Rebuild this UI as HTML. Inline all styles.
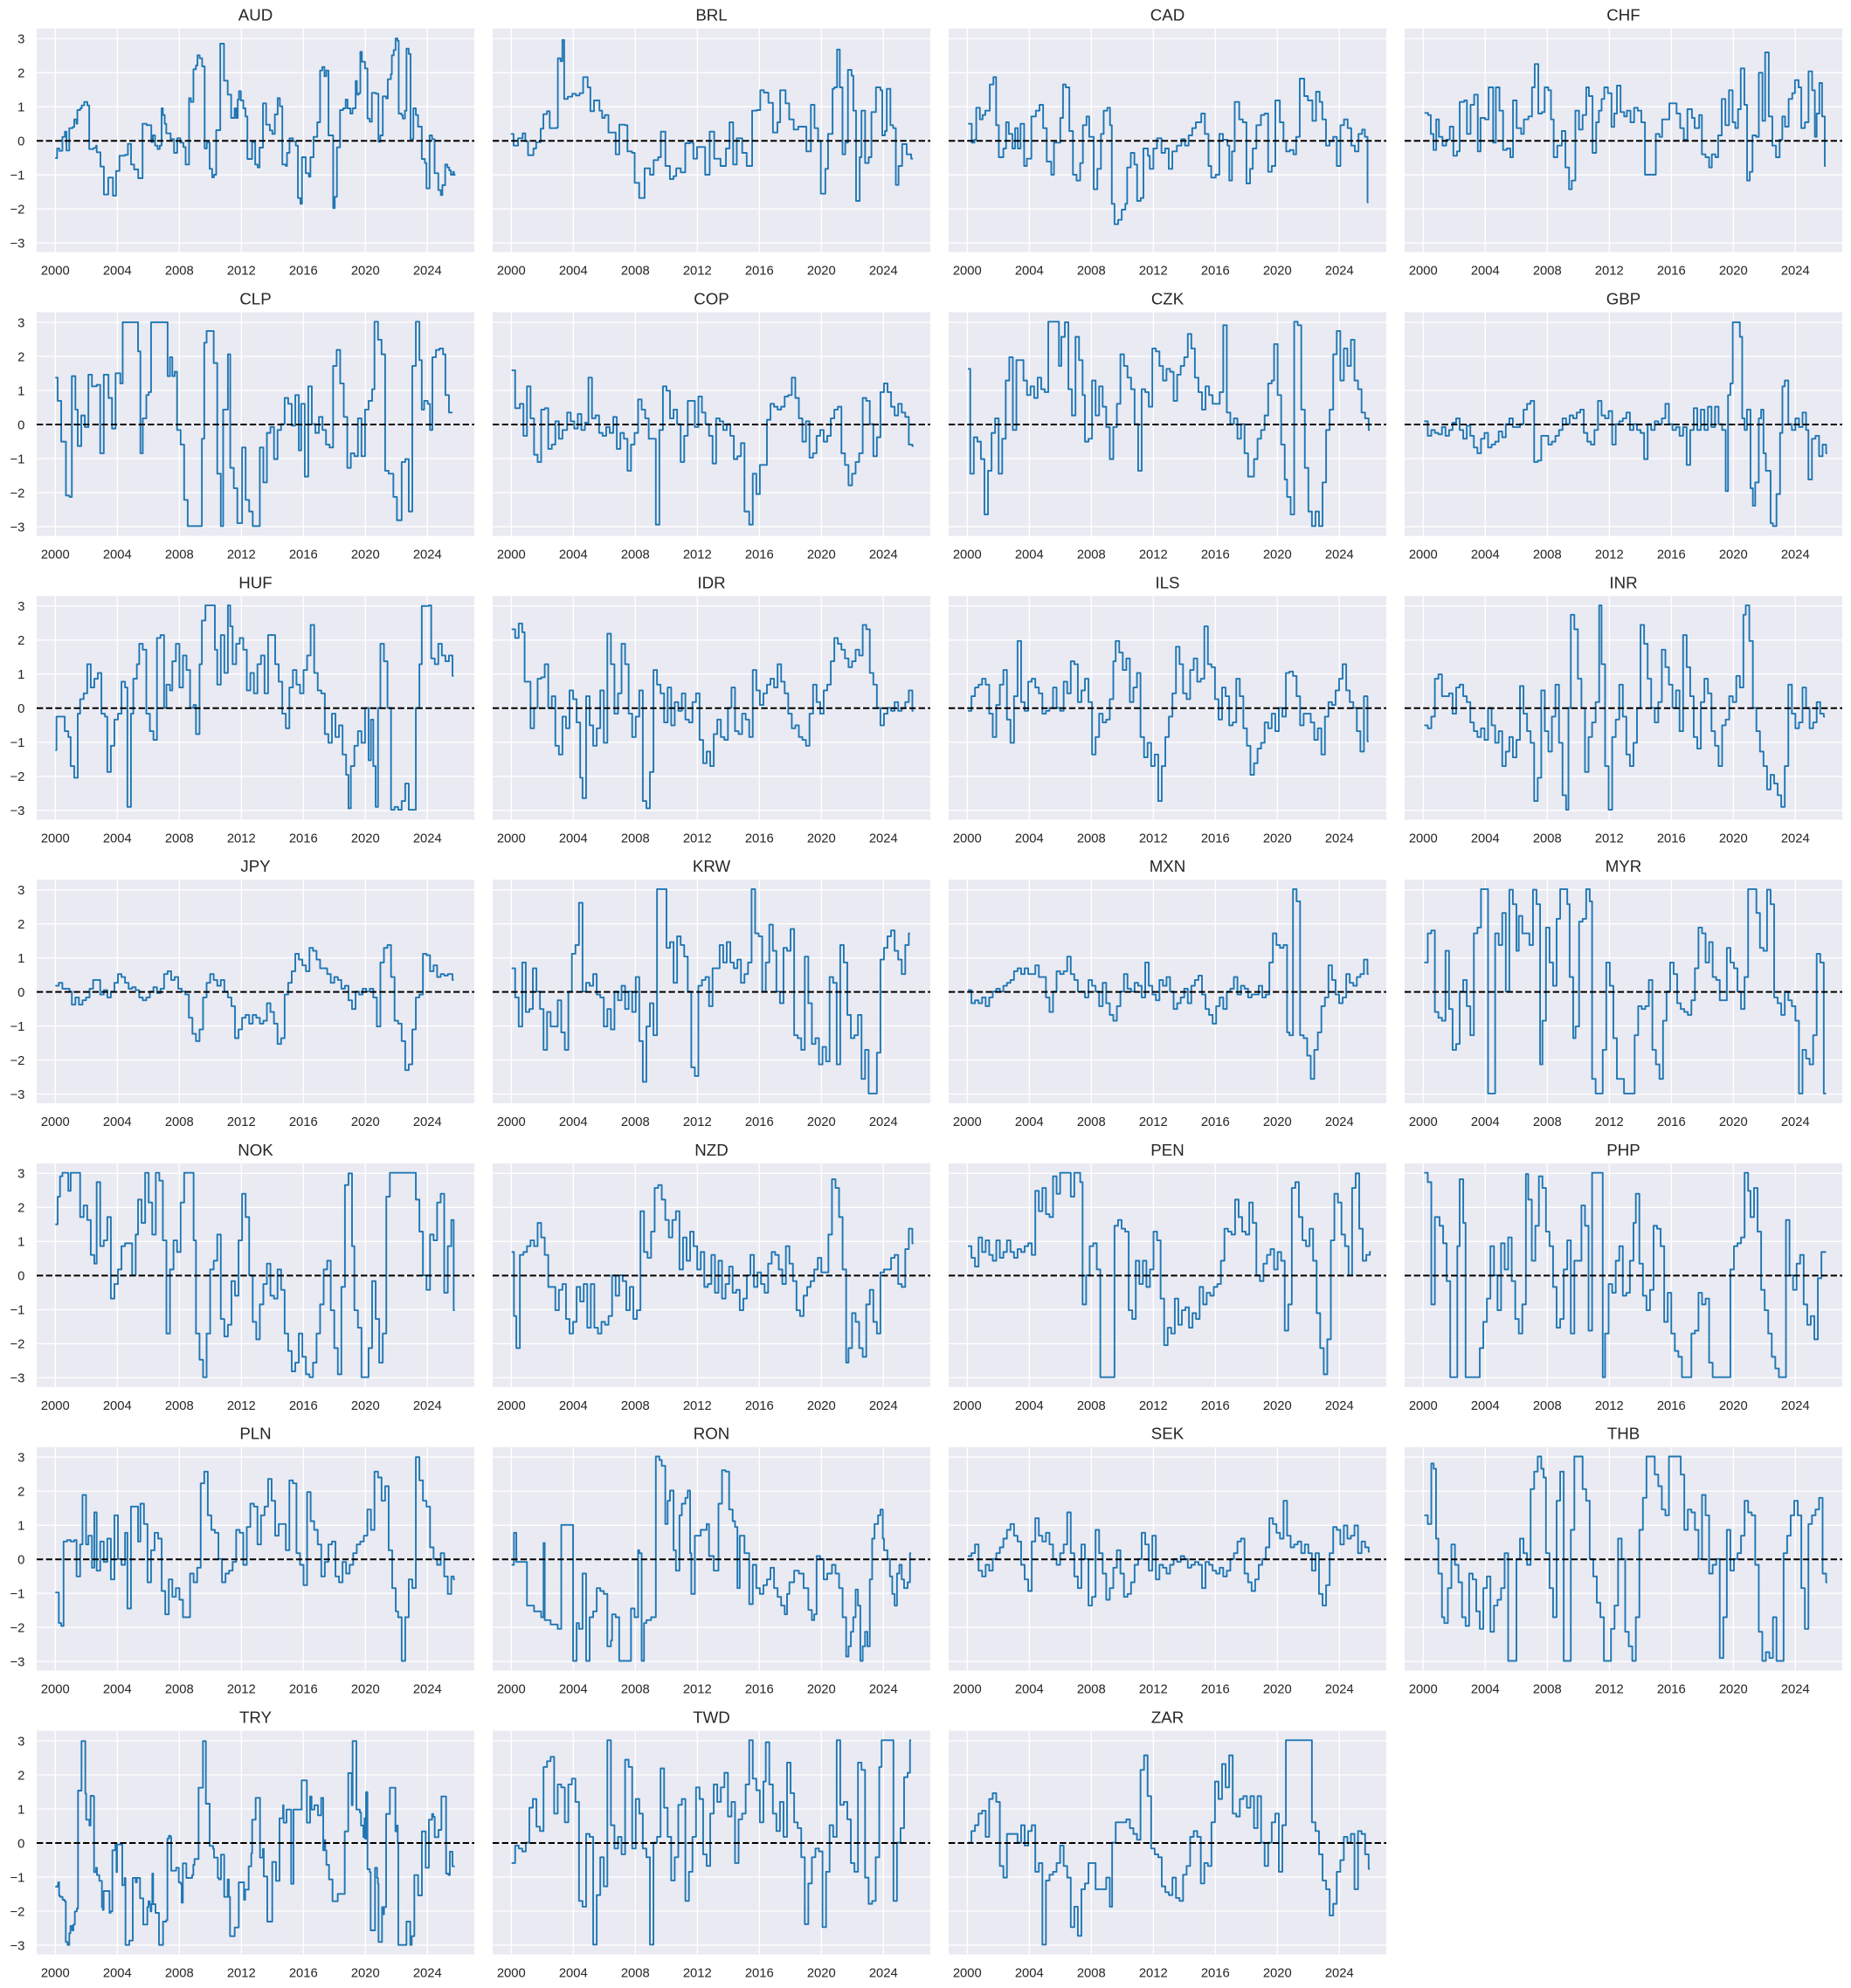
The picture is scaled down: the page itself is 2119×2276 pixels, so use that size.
<!DOCTYPE html>
<html><head><meta charset="utf-8"><style>
html,body{margin:0;padding:0;background:#fff}
svg{display:block}
.bg{fill:#EAEAF2}
.gr{stroke:#fff;stroke-width:1.3;fill:none}
text{font-family:"Liberation Sans",Arial,sans-serif;fill:#262626}
.ti{font-size:18.7px;text-anchor:middle}
.xt{font-size:14.8px;text-anchor:middle}
.yt{font-size:14.8px;text-anchor:end}
.s{fill:none;stroke:#1f77b4;stroke-width:1.9;stroke-linejoin:round;vector-effect:non-scaling-stroke}
.z{fill:none;stroke:#000;stroke-width:2;stroke-dasharray:7.4 3.2}
</style></head><body>
<svg width="2119" height="2276" viewBox="0 0 2119 2276" xmlns="http://www.w3.org/2000/svg">
<defs></defs>
<!-- Panels -->
<g id="panels">
<!-- Row 1 -->
<g transform="translate(42,32.7)"><rect class="bg" width="501" height="256"/><path class="gr" d="M0 11.5H501M0 50.5H501M0 89.5H501M0 128.5H501M0 167.5H501M0 206.5H501M0 245.5H501M21.3 0V256M92.3 0V256M163.3 0V256M234.3 0V256M305.3 0V256M376.3 0V256M447.3 0V256"/><text class="ti" x="250.5" y="-9">AUD</text><text class="xt" x="21.3" y="282">2000</text><text class="xt" x="92.3" y="282">2004</text><text class="xt" x="163.3" y="282">2008</text><text class="xt" x="234.3" y="282">2012</text><text class="xt" x="305.3" y="282">2016</text><text class="xt" x="376.3" y="282">2020</text><text class="xt" x="447.3" y="282">2024</text><text class="yt" x="-13.7" y="16.8">3</text><text class="yt" x="-13.7" y="55.8">2</text><text class="yt" x="-13.7" y="94.8">1</text><text class="yt" x="-13.7" y="133.8">0</text><text class="yt" x="-13.7" y="172.8">−1</text><text class="yt" x="-13.7" y="211.8">−2</text><text class="yt" x="-13.7" y="250.8">−3</text></g>
<g transform="translate(564,32.7)"><rect class="bg" width="501" height="256"/><path class="gr" d="M0 11.5H501M0 50.5H501M0 89.5H501M0 128.5H501M0 167.5H501M0 206.5H501M0 245.5H501M21.3 0V256M92.3 0V256M163.3 0V256M234.3 0V256M305.3 0V256M376.3 0V256M447.3 0V256"/><text class="ti" x="250.5" y="-9">BRL</text><text class="xt" x="21.3" y="282">2000</text><text class="xt" x="92.3" y="282">2004</text><text class="xt" x="163.3" y="282">2008</text><text class="xt" x="234.3" y="282">2012</text><text class="xt" x="305.3" y="282">2016</text><text class="xt" x="376.3" y="282">2020</text><text class="xt" x="447.3" y="282">2024</text></g>
<g transform="translate(1086,32.7)"><rect class="bg" width="501" height="256"/><path class="gr" d="M0 11.5H501M0 50.5H501M0 89.5H501M0 128.5H501M0 167.5H501M0 206.5H501M0 245.5H501M21.3 0V256M92.3 0V256M163.3 0V256M234.3 0V256M305.3 0V256M376.3 0V256M447.3 0V256"/><text class="ti" x="250.5" y="-9">CAD</text><text class="xt" x="21.3" y="282">2000</text><text class="xt" x="92.3" y="282">2004</text><text class="xt" x="163.3" y="282">2008</text><text class="xt" x="234.3" y="282">2012</text><text class="xt" x="305.3" y="282">2016</text><text class="xt" x="376.3" y="282">2020</text><text class="xt" x="447.3" y="282">2024</text></g>
<g transform="translate(1608,32.7)"><rect class="bg" width="501" height="256"/><path class="gr" d="M0 11.5H501M0 50.5H501M0 89.5H501M0 128.5H501M0 167.5H501M0 206.5H501M0 245.5H501M21.3 0V256M92.3 0V256M163.3 0V256M234.3 0V256M305.3 0V256M376.3 0V256M447.3 0V256"/><text class="ti" x="250.5" y="-9">CHF</text><text class="xt" x="21.3" y="282">2000</text><text class="xt" x="92.3" y="282">2004</text><text class="xt" x="163.3" y="282">2008</text><text class="xt" x="234.3" y="282">2012</text><text class="xt" x="305.3" y="282">2016</text><text class="xt" x="376.3" y="282">2020</text><text class="xt" x="447.3" y="282">2024</text></g>
<!-- Row 2 -->
<g transform="translate(42,357.5)"><rect class="bg" width="501" height="256"/><path class="gr" d="M0 11.5H501M0 50.5H501M0 89.5H501M0 128.5H501M0 167.5H501M0 206.5H501M0 245.5H501M21.3 0V256M92.3 0V256M163.3 0V256M234.3 0V256M305.3 0V256M376.3 0V256M447.3 0V256"/><text class="ti" x="250.5" y="-9">CLP</text><text class="xt" x="21.3" y="282">2000</text><text class="xt" x="92.3" y="282">2004</text><text class="xt" x="163.3" y="282">2008</text><text class="xt" x="234.3" y="282">2012</text><text class="xt" x="305.3" y="282">2016</text><text class="xt" x="376.3" y="282">2020</text><text class="xt" x="447.3" y="282">2024</text><text class="yt" x="-13.7" y="16.8">3</text><text class="yt" x="-13.7" y="55.8">2</text><text class="yt" x="-13.7" y="94.8">1</text><text class="yt" x="-13.7" y="133.8">0</text><text class="yt" x="-13.7" y="172.8">−1</text><text class="yt" x="-13.7" y="211.8">−2</text><text class="yt" x="-13.7" y="250.8">−3</text></g>
<g transform="translate(564,357.5)"><rect class="bg" width="501" height="256"/><path class="gr" d="M0 11.5H501M0 50.5H501M0 89.5H501M0 128.5H501M0 167.5H501M0 206.5H501M0 245.5H501M21.3 0V256M92.3 0V256M163.3 0V256M234.3 0V256M305.3 0V256M376.3 0V256M447.3 0V256"/><text class="ti" x="250.5" y="-9">COP</text><text class="xt" x="21.3" y="282">2000</text><text class="xt" x="92.3" y="282">2004</text><text class="xt" x="163.3" y="282">2008</text><text class="xt" x="234.3" y="282">2012</text><text class="xt" x="305.3" y="282">2016</text><text class="xt" x="376.3" y="282">2020</text><text class="xt" x="447.3" y="282">2024</text></g>
<g transform="translate(1086,357.5)"><rect class="bg" width="501" height="256"/><path class="gr" d="M0 11.5H501M0 50.5H501M0 89.5H501M0 128.5H501M0 167.5H501M0 206.5H501M0 245.5H501M21.3 0V256M92.3 0V256M163.3 0V256M234.3 0V256M305.3 0V256M376.3 0V256M447.3 0V256"/><text class="ti" x="250.5" y="-9">CZK</text><text class="xt" x="21.3" y="282">2000</text><text class="xt" x="92.3" y="282">2004</text><text class="xt" x="163.3" y="282">2008</text><text class="xt" x="234.3" y="282">2012</text><text class="xt" x="305.3" y="282">2016</text><text class="xt" x="376.3" y="282">2020</text><text class="xt" x="447.3" y="282">2024</text></g>
<g transform="translate(1608,357.5)"><rect class="bg" width="501" height="256"/><path class="gr" d="M0 11.5H501M0 50.5H501M0 89.5H501M0 128.5H501M0 167.5H501M0 206.5H501M0 245.5H501M21.3 0V256M92.3 0V256M163.3 0V256M234.3 0V256M305.3 0V256M376.3 0V256M447.3 0V256"/><text class="ti" x="250.5" y="-9">GBP</text><text class="xt" x="21.3" y="282">2000</text><text class="xt" x="92.3" y="282">2004</text><text class="xt" x="163.3" y="282">2008</text><text class="xt" x="234.3" y="282">2012</text><text class="xt" x="305.3" y="282">2016</text><text class="xt" x="376.3" y="282">2020</text><text class="xt" x="447.3" y="282">2024</text></g>
<!-- Row 3 -->
<g transform="translate(42,682.3)"><rect class="bg" width="501" height="256"/><path class="gr" d="M0 11.5H501M0 50.5H501M0 89.5H501M0 128.5H501M0 167.5H501M0 206.5H501M0 245.5H501M21.3 0V256M92.3 0V256M163.3 0V256M234.3 0V256M305.3 0V256M376.3 0V256M447.3 0V256"/><text class="ti" x="250.5" y="-9">HUF</text><text class="xt" x="21.3" y="282">2000</text><text class="xt" x="92.3" y="282">2004</text><text class="xt" x="163.3" y="282">2008</text><text class="xt" x="234.3" y="282">2012</text><text class="xt" x="305.3" y="282">2016</text><text class="xt" x="376.3" y="282">2020</text><text class="xt" x="447.3" y="282">2024</text><text class="yt" x="-13.7" y="16.8">3</text><text class="yt" x="-13.7" y="55.8">2</text><text class="yt" x="-13.7" y="94.8">1</text><text class="yt" x="-13.7" y="133.8">0</text><text class="yt" x="-13.7" y="172.8">−1</text><text class="yt" x="-13.7" y="211.8">−2</text><text class="yt" x="-13.7" y="250.8">−3</text></g>
<g transform="translate(564,682.3)"><rect class="bg" width="501" height="256"/><path class="gr" d="M0 11.5H501M0 50.5H501M0 89.5H501M0 128.5H501M0 167.5H501M0 206.5H501M0 245.5H501M21.3 0V256M92.3 0V256M163.3 0V256M234.3 0V256M305.3 0V256M376.3 0V256M447.3 0V256"/><text class="ti" x="250.5" y="-9">IDR</text><text class="xt" x="21.3" y="282">2000</text><text class="xt" x="92.3" y="282">2004</text><text class="xt" x="163.3" y="282">2008</text><text class="xt" x="234.3" y="282">2012</text><text class="xt" x="305.3" y="282">2016</text><text class="xt" x="376.3" y="282">2020</text><text class="xt" x="447.3" y="282">2024</text></g>
<g transform="translate(1086,682.3)"><rect class="bg" width="501" height="256"/><path class="gr" d="M0 11.5H501M0 50.5H501M0 89.5H501M0 128.5H501M0 167.5H501M0 206.5H501M0 245.5H501M21.3 0V256M92.3 0V256M163.3 0V256M234.3 0V256M305.3 0V256M376.3 0V256M447.3 0V256"/><text class="ti" x="250.5" y="-9">ILS</text><text class="xt" x="21.3" y="282">2000</text><text class="xt" x="92.3" y="282">2004</text><text class="xt" x="163.3" y="282">2008</text><text class="xt" x="234.3" y="282">2012</text><text class="xt" x="305.3" y="282">2016</text><text class="xt" x="376.3" y="282">2020</text><text class="xt" x="447.3" y="282">2024</text></g>
<g transform="translate(1608,682.3)"><rect class="bg" width="501" height="256"/><path class="gr" d="M0 11.5H501M0 50.5H501M0 89.5H501M0 128.5H501M0 167.5H501M0 206.5H501M0 245.5H501M21.3 0V256M92.3 0V256M163.3 0V256M234.3 0V256M305.3 0V256M376.3 0V256M447.3 0V256"/><text class="ti" x="250.5" y="-9">INR</text><text class="xt" x="21.3" y="282">2000</text><text class="xt" x="92.3" y="282">2004</text><text class="xt" x="163.3" y="282">2008</text><text class="xt" x="234.3" y="282">2012</text><text class="xt" x="305.3" y="282">2016</text><text class="xt" x="376.3" y="282">2020</text><text class="xt" x="447.3" y="282">2024</text></g>
<!-- Row 4 -->
<g transform="translate(42,1007.1)"><rect class="bg" width="501" height="256"/><path class="gr" d="M0 11.5H501M0 50.5H501M0 89.5H501M0 128.5H501M0 167.5H501M0 206.5H501M0 245.5H501M21.3 0V256M92.3 0V256M163.3 0V256M234.3 0V256M305.3 0V256M376.3 0V256M447.3 0V256"/><text class="ti" x="250.5" y="-9">JPY</text><text class="xt" x="21.3" y="282">2000</text><text class="xt" x="92.3" y="282">2004</text><text class="xt" x="163.3" y="282">2008</text><text class="xt" x="234.3" y="282">2012</text><text class="xt" x="305.3" y="282">2016</text><text class="xt" x="376.3" y="282">2020</text><text class="xt" x="447.3" y="282">2024</text><text class="yt" x="-13.7" y="16.8">3</text><text class="yt" x="-13.7" y="55.8">2</text><text class="yt" x="-13.7" y="94.8">1</text><text class="yt" x="-13.7" y="133.8">0</text><text class="yt" x="-13.7" y="172.8">−1</text><text class="yt" x="-13.7" y="211.8">−2</text><text class="yt" x="-13.7" y="250.8">−3</text></g>
<g transform="translate(564,1007.1)"><rect class="bg" width="501" height="256"/><path class="gr" d="M0 11.5H501M0 50.5H501M0 89.5H501M0 128.5H501M0 167.5H501M0 206.5H501M0 245.5H501M21.3 0V256M92.3 0V256M163.3 0V256M234.3 0V256M305.3 0V256M376.3 0V256M447.3 0V256"/><text class="ti" x="250.5" y="-9">KRW</text><text class="xt" x="21.3" y="282">2000</text><text class="xt" x="92.3" y="282">2004</text><text class="xt" x="163.3" y="282">2008</text><text class="xt" x="234.3" y="282">2012</text><text class="xt" x="305.3" y="282">2016</text><text class="xt" x="376.3" y="282">2020</text><text class="xt" x="447.3" y="282">2024</text></g>
<g transform="translate(1086,1007.1)"><rect class="bg" width="501" height="256"/><path class="gr" d="M0 11.5H501M0 50.5H501M0 89.5H501M0 128.5H501M0 167.5H501M0 206.5H501M0 245.5H501M21.3 0V256M92.3 0V256M163.3 0V256M234.3 0V256M305.3 0V256M376.3 0V256M447.3 0V256"/><text class="ti" x="250.5" y="-9">MXN</text><text class="xt" x="21.3" y="282">2000</text><text class="xt" x="92.3" y="282">2004</text><text class="xt" x="163.3" y="282">2008</text><text class="xt" x="234.3" y="282">2012</text><text class="xt" x="305.3" y="282">2016</text><text class="xt" x="376.3" y="282">2020</text><text class="xt" x="447.3" y="282">2024</text></g>
<g transform="translate(1608,1007.1)"><rect class="bg" width="501" height="256"/><path class="gr" d="M0 11.5H501M0 50.5H501M0 89.5H501M0 128.5H501M0 167.5H501M0 206.5H501M0 245.5H501M21.3 0V256M92.3 0V256M163.3 0V256M234.3 0V256M305.3 0V256M376.3 0V256M447.3 0V256"/><text class="ti" x="250.5" y="-9">MYR</text><text class="xt" x="21.3" y="282">2000</text><text class="xt" x="92.3" y="282">2004</text><text class="xt" x="163.3" y="282">2008</text><text class="xt" x="234.3" y="282">2012</text><text class="xt" x="305.3" y="282">2016</text><text class="xt" x="376.3" y="282">2020</text><text class="xt" x="447.3" y="282">2024</text></g>
<!-- Row 5 -->
<g transform="translate(42,1331.9)"><rect class="bg" width="501" height="256"/><path class="gr" d="M0 11.5H501M0 50.5H501M0 89.5H501M0 128.5H501M0 167.5H501M0 206.5H501M0 245.5H501M21.3 0V256M92.3 0V256M163.3 0V256M234.3 0V256M305.3 0V256M376.3 0V256M447.3 0V256"/><text class="ti" x="250.5" y="-9">NOK</text><text class="xt" x="21.3" y="282">2000</text><text class="xt" x="92.3" y="282">2004</text><text class="xt" x="163.3" y="282">2008</text><text class="xt" x="234.3" y="282">2012</text><text class="xt" x="305.3" y="282">2016</text><text class="xt" x="376.3" y="282">2020</text><text class="xt" x="447.3" y="282">2024</text><text class="yt" x="-13.7" y="16.8">3</text><text class="yt" x="-13.7" y="55.8">2</text><text class="yt" x="-13.7" y="94.8">1</text><text class="yt" x="-13.7" y="133.8">0</text><text class="yt" x="-13.7" y="172.8">−1</text><text class="yt" x="-13.7" y="211.8">−2</text><text class="yt" x="-13.7" y="250.8">−3</text></g>
<g transform="translate(564,1331.9)"><rect class="bg" width="501" height="256"/><path class="gr" d="M0 11.5H501M0 50.5H501M0 89.5H501M0 128.5H501M0 167.5H501M0 206.5H501M0 245.5H501M21.3 0V256M92.3 0V256M163.3 0V256M234.3 0V256M305.3 0V256M376.3 0V256M447.3 0V256"/><text class="ti" x="250.5" y="-9">NZD</text><text class="xt" x="21.3" y="282">2000</text><text class="xt" x="92.3" y="282">2004</text><text class="xt" x="163.3" y="282">2008</text><text class="xt" x="234.3" y="282">2012</text><text class="xt" x="305.3" y="282">2016</text><text class="xt" x="376.3" y="282">2020</text><text class="xt" x="447.3" y="282">2024</text></g>
<g transform="translate(1086,1331.9)"><rect class="bg" width="501" height="256"/><path class="gr" d="M0 11.5H501M0 50.5H501M0 89.5H501M0 128.5H501M0 167.5H501M0 206.5H501M0 245.5H501M21.3 0V256M92.3 0V256M163.3 0V256M234.3 0V256M305.3 0V256M376.3 0V256M447.3 0V256"/><text class="ti" x="250.5" y="-9">PEN</text><text class="xt" x="21.3" y="282">2000</text><text class="xt" x="92.3" y="282">2004</text><text class="xt" x="163.3" y="282">2008</text><text class="xt" x="234.3" y="282">2012</text><text class="xt" x="305.3" y="282">2016</text><text class="xt" x="376.3" y="282">2020</text><text class="xt" x="447.3" y="282">2024</text></g>
<g transform="translate(1608,1331.9)"><rect class="bg" width="501" height="256"/><path class="gr" d="M0 11.5H501M0 50.5H501M0 89.5H501M0 128.5H501M0 167.5H501M0 206.5H501M0 245.5H501M21.3 0V256M92.3 0V256M163.3 0V256M234.3 0V256M305.3 0V256M376.3 0V256M447.3 0V256"/><text class="ti" x="250.5" y="-9">PHP</text><text class="xt" x="21.3" y="282">2000</text><text class="xt" x="92.3" y="282">2004</text><text class="xt" x="163.3" y="282">2008</text><text class="xt" x="234.3" y="282">2012</text><text class="xt" x="305.3" y="282">2016</text><text class="xt" x="376.3" y="282">2020</text><text class="xt" x="447.3" y="282">2024</text></g>
<!-- Row 6 -->
<g transform="translate(42,1656.7)"><rect class="bg" width="501" height="256"/><path class="gr" d="M0 11.5H501M0 50.5H501M0 89.5H501M0 128.5H501M0 167.5H501M0 206.5H501M0 245.5H501M21.3 0V256M92.3 0V256M163.3 0V256M234.3 0V256M305.3 0V256M376.3 0V256M447.3 0V256"/><text class="ti" x="250.5" y="-9">PLN</text><text class="xt" x="21.3" y="282">2000</text><text class="xt" x="92.3" y="282">2004</text><text class="xt" x="163.3" y="282">2008</text><text class="xt" x="234.3" y="282">2012</text><text class="xt" x="305.3" y="282">2016</text><text class="xt" x="376.3" y="282">2020</text><text class="xt" x="447.3" y="282">2024</text><text class="yt" x="-13.7" y="16.8">3</text><text class="yt" x="-13.7" y="55.8">2</text><text class="yt" x="-13.7" y="94.8">1</text><text class="yt" x="-13.7" y="133.8">0</text><text class="yt" x="-13.7" y="172.8">−1</text><text class="yt" x="-13.7" y="211.8">−2</text><text class="yt" x="-13.7" y="250.8">−3</text></g>
<g transform="translate(564,1656.7)"><rect class="bg" width="501" height="256"/><path class="gr" d="M0 11.5H501M0 50.5H501M0 89.5H501M0 128.5H501M0 167.5H501M0 206.5H501M0 245.5H501M21.3 0V256M92.3 0V256M163.3 0V256M234.3 0V256M305.3 0V256M376.3 0V256M447.3 0V256"/><text class="ti" x="250.5" y="-9">RON</text><text class="xt" x="21.3" y="282">2000</text><text class="xt" x="92.3" y="282">2004</text><text class="xt" x="163.3" y="282">2008</text><text class="xt" x="234.3" y="282">2012</text><text class="xt" x="305.3" y="282">2016</text><text class="xt" x="376.3" y="282">2020</text><text class="xt" x="447.3" y="282">2024</text></g>
<g transform="translate(1086,1656.7)"><rect class="bg" width="501" height="256"/><path class="gr" d="M0 11.5H501M0 50.5H501M0 89.5H501M0 128.5H501M0 167.5H501M0 206.5H501M0 245.5H501M21.3 0V256M92.3 0V256M163.3 0V256M234.3 0V256M305.3 0V256M376.3 0V256M447.3 0V256"/><text class="ti" x="250.5" y="-9">SEK</text><text class="xt" x="21.3" y="282">2000</text><text class="xt" x="92.3" y="282">2004</text><text class="xt" x="163.3" y="282">2008</text><text class="xt" x="234.3" y="282">2012</text><text class="xt" x="305.3" y="282">2016</text><text class="xt" x="376.3" y="282">2020</text><text class="xt" x="447.3" y="282">2024</text></g>
<g transform="translate(1608,1656.7)"><rect class="bg" width="501" height="256"/><path class="gr" d="M0 11.5H501M0 50.5H501M0 89.5H501M0 128.5H501M0 167.5H501M0 206.5H501M0 245.5H501M21.3 0V256M92.3 0V256M163.3 0V256M234.3 0V256M305.3 0V256M376.3 0V256M447.3 0V256"/><text class="ti" x="250.5" y="-9">THB</text><text class="xt" x="21.3" y="282">2000</text><text class="xt" x="92.3" y="282">2004</text><text class="xt" x="163.3" y="282">2008</text><text class="xt" x="234.3" y="282">2012</text><text class="xt" x="305.3" y="282">2016</text><text class="xt" x="376.3" y="282">2020</text><text class="xt" x="447.3" y="282">2024</text></g>
<!-- Row 7 -->
<g transform="translate(42,1981.5)"><rect class="bg" width="501" height="256"/><path class="gr" d="M0 11.5H501M0 50.5H501M0 89.5H501M0 128.5H501M0 167.5H501M0 206.5H501M0 245.5H501M21.3 0V256M92.3 0V256M163.3 0V256M234.3 0V256M305.3 0V256M376.3 0V256M447.3 0V256"/><text class="ti" x="250.5" y="-9">TRY</text><text class="xt" x="21.3" y="282">2000</text><text class="xt" x="92.3" y="282">2004</text><text class="xt" x="163.3" y="282">2008</text><text class="xt" x="234.3" y="282">2012</text><text class="xt" x="305.3" y="282">2016</text><text class="xt" x="376.3" y="282">2020</text><text class="xt" x="447.3" y="282">2024</text><text class="yt" x="-13.7" y="16.8">3</text><text class="yt" x="-13.7" y="55.8">2</text><text class="yt" x="-13.7" y="94.8">1</text><text class="yt" x="-13.7" y="133.8">0</text><text class="yt" x="-13.7" y="172.8">−1</text><text class="yt" x="-13.7" y="211.8">−2</text><text class="yt" x="-13.7" y="250.8">−3</text></g>
<g transform="translate(564,1981.5)"><rect class="bg" width="501" height="256"/><path class="gr" d="M0 11.5H501M0 50.5H501M0 89.5H501M0 128.5H501M0 167.5H501M0 206.5H501M0 245.5H501M21.3 0V256M92.3 0V256M163.3 0V256M234.3 0V256M305.3 0V256M376.3 0V256M447.3 0V256"/><text class="ti" x="250.5" y="-9">TWD</text><text class="xt" x="21.3" y="282">2000</text><text class="xt" x="92.3" y="282">2004</text><text class="xt" x="163.3" y="282">2008</text><text class="xt" x="234.3" y="282">2012</text><text class="xt" x="305.3" y="282">2016</text><text class="xt" x="376.3" y="282">2020</text><text class="xt" x="447.3" y="282">2024</text></g>
<g transform="translate(1086,1981.5)"><rect class="bg" width="501" height="256"/><path class="gr" d="M0 11.5H501M0 50.5H501M0 89.5H501M0 128.5H501M0 167.5H501M0 206.5H501M0 245.5H501M21.3 0V256M92.3 0V256M163.3 0V256M234.3 0V256M305.3 0V256M376.3 0V256M447.3 0V256"/><text class="ti" x="250.5" y="-9">ZAR</text><text class="xt" x="21.3" y="282">2000</text><text class="xt" x="92.3" y="282">2004</text><text class="xt" x="163.3" y="282">2008</text><text class="xt" x="234.3" y="282">2012</text><text class="xt" x="305.3" y="282">2016</text><text class="xt" x="376.3" y="282">2020</text><text class="xt" x="447.3" y="282">2024</text></g>
</g>

<!-- Series -->
<!-- AUD -->
<g transform="scale(0.35714,0.33333)">
<path class="s" vector-effect="non-scaling-stroke" d="M177 543H183V510H190V518H200V470H208V452H213V517H222V440H233V436H238V410H245V425H248V378H257V372H262V362H270V350H280V362H286V512H300V508H308V500H310V523H322V572H333V668H345V668H347V610H360V610H362V672H372V587H383V535H400V532H410V494H420V565H430V582H443V612H457V425H470V430H485V488H490V465H497V500H505V512H512V500H518V372H522V395H528V425H533V458H547V478H558V525H568V475H578V490H588V505H595V565H606V337H612V350H620V238H628V225H633V190H640V200H648V228H656V510H663V490H672V580H680V609H686V600H693V447H706V150H718V277H730V325H741V405H752V372H757V405H762V342H766V313H772V345H780V372H787V400H793V546H808V488H818V565H826V575H832V507H843V355H853V428H865V448H873V460H881V393H890V337H897V365H905V565H916V570H920V525H928V475H939V485H948V500H955V680H963V700H968V540H980V595H990V607H995V540H1005V470H1017V420H1026V242H1033V230H1040V262H1046V242H1053V465H1068V715H1073V676H1080V506H1090V378H1100V372H1108V342H1114V372H1123V390H1130V372H1140V278H1144V325H1150V320H1155V178H1160V212H1170V235H1178V407H1185V418H1192V319H1205V322H1213V487H1219V465H1227V331H1238V338H1243V272H1253V255H1256V190H1262V172H1268V132H1274V140H1278V390H1287V395H1291V407H1298V380H1303V167H1310V185H1316V478H1325V372H1333V395H1340V435H1352V546H1362V560H1367V647H1377V465H1385V478H1393V595H1405V653H1413V670H1418V636H1427V565H1434V575H1440V585H1445V600H1452V590H1455V600H1460"/>
</g>
<!-- BRL CAD CHF -->
<g transform="translate(500,0) scale(1.0345,0.33333)">
<path class="s" vector-effect="non-scaling-stroke" d="M82 460H85V500H90V475H95V458H98V485H101V533H107V510H110V488H115V442H118V392H122V382H125V440H133V438H134V200H137V210H139V137H141V340H145V332H150V322H154V328H158V320H162V265H167V300H170V382H174V345H180V380H183V405H186V395H190V455H194V455H198V530H202V428H208V430H211V520H216V525H219V628H224V680H230V578H236V600H240V550H245V540H248V452H253V570H258V615H262V605H265V578H270V592H275V492H280V490H284V545H288V505H297V600H302V452H307V545H314V570H320V510H324V420H328V565H332V475H338V525H343V570H349V380H354V378H358V310H362V318H367V353H372V455H377V420H380V310H386V355H390V410H395V445H400V435H406V435H409V520H414V360H418V440H422V485H425V665H430V580H433V460H438V305H440V300H443V170H446V300H449V530H452V490H455V240H459V260H461V380H464V690H468V540H470V380H474V560H478V540H481V385H486V300H491V310H493V465H496V450H498V305H502V430H505V440H508V635H511V570H515V495H520V530H525V545H527"/>
<path class="s" vector-effect="non-scaling-stroke" d="M588 425H592V490H595V480H597V370H601V410H604V395H607V380H612V290H616V265H619V430H622V540H627V510H630V420H633V460H637V510H640V440H643V510H646V425H650V570H653V545H658V400H663V380H667V360H671V440H675V555H680V600H683V490H690V405H693V290H696V300H700V450H704V600H708V620H712V560H715V430H719V400H722V470H727V650H731V580H735V460H738V380H742V370H745V430H747V700H750V770H754V755H758V720H762V700H764V575H768V525H772V565H775V690H779V680H782V510H787V535H789V580H793V510H797V475H802V525H806V510H810V580H814V520H819V500H824V478H828V500H832V465H836V440H840V420H846V390H850V460H854V570H857V610H862V600H866V460H870V480H875V500H877V620H880V520H883V350H888V410H892V420H896V630H900V580H903V510H907V430H912V395H916V390H920V590H924V570H928V345H933V420H937V485H940V520H944V515H948V530H951V470H955V270H960V330H964V345H969V415H973V315H977V350H980V410H984V500H988V485H992V470H996V570H1000V430H1004V410H1008V440H1012V500H1016V520H1020V460H1024V445H1027V470H1030V695H1031"/>
<path class="s" vector-effect="non-scaling-stroke" d="M1093 388H1097V395H1100V460H1103V515H1106V410H1109V470H1113V500H1117V480H1121V435H1125V535H1129V520H1132V350H1137V345H1140V460H1144V360H1148V325H1152V520H1155V405H1160V410H1164V300H1169V490H1172V300H1176V380H1180V515H1184V510H1188V540H1191V345H1195V440H1200V460H1203V410H1208V400H1212V300H1215V220H1219V390H1223V385H1226V300H1230V310H1233V410H1236V540H1240V500H1245V450H1249V575H1253V650H1256V620H1260V380H1264V445H1268V395H1272V300H1275V330H1279V525H1283V420H1286V380H1289V340H1292V300H1296V320H1300V436H1303V390H1306V294H1310V385H1314V400H1317V380H1321V420H1325V370H1329V380H1333V420H1337V600H1345V600H1349V460H1353V470H1356V410H1360V410H1364V355H1368V355H1372V390H1376V440H1380V480H1384V375H1389V405H1392V440H1397V395H1400V530H1404V540H1408V575H1411V530H1415V540H1418V465H1422V340H1426V430H1430V310H1434V420H1437V440H1440V375H1443V235H1447V360H1450V620H1453V590H1456V465H1460V470H1463V250H1467V415H1470V180H1474V400H1478V500H1482V540H1486V480H1489V400H1492V435H1496V340H1500V320H1503V275H1507V300H1510V440H1514V420H1518V245H1522V310H1525V470H1527V390H1530V285H1533V400H1536V570H1537"/>
</g>
<!-- Row 2 -->
<g transform="translate(-0.3,352.3) scale(1.3533,0.33333)">
<path class="s" vector-effect="non-scaling-stroke" d="M47 240H49V320H52V460H56V645H59V650H61V235H64V350H66V475H69V370H72V410H75V230H78V270H82V265H85V500H88V230H92V310H95V415H98V225H102V260H104V50H116V50H117V150H119V500H121V380H124V300H126V290H128V50H140V50H142V235H144V170H146V235H148V220H150V420H153V470H156V660H159V750H169V750H171V450H173V120H175V80H179V80H181V190H184V570H187V750H189V350H193V160H195V550H198V620H201V740H203V740H205V480H208V660H211V700H214V750H218V750H220V480H223V600H226V430H229V410H232V520H235V420H238V400H241V310H244V330H247V405H250V300H253V490H255V330H258V580H261V270H264V400H267V430H270V375H273V420H276V470H279V480H282V200H285V145H288V260H291V375H294V550H297V500H300V510H303V380H306V510H309V350H312V320H315V280H317V48H320V110H323V160H326V560H329V570H333V650H336V730H340V530H343V520H346V700H349V200H352V48H355V180H357V350H359V320H362V330H364V420H366V170H369V145H372V140H375V160H377V300H380V360H383"/>
<path class="s" vector-effect="non-scaling-stroke" d="M433 215H436V345H440V330H443V440H446V270H449V380H452V505H455V530H458V350H461V345H464V485H467V470H470V390H473V450H476V420H480V360H483V390H486V415H489V365H492V420H495V395H498V240H501V380H504V370H507V430H510V440H513V410H516V430H519V375H522V485H525V430H528V450H531V560H534V470H537V430H540V315H543V350H546V380H549V450H552V450H555V745H558V420H561V270H564V285H567V380H570V350H573V400H576V530H579V440H582V320H585V320H588V410H591V305H594V360H597V400H600V440H603V535H606V380H609V390H612V420H615V400H618V440H621V520H624V510H627V465H630V700H634V745H637V570H640V640H643V540H649V385H652V330H655V340H658V350H661V340H664V305H667V300H670V240H673V310H676V380H679V460H682V390H685V515H688V500H691V440H694V420H697V460H700V440H703V380H706V350H709V340H712V500H715V540H718V610H721V570H724V530H727V500H730V310H733V320H736V400H739V510H742V445H745V290H748V260H751V290H754V340H757V370H760V330H763V360H766V375H769V470H772V475H773"/>
<path class="s" vector-effect="non-scaling-stroke" d="M819 210H821V570H824V445H827V460H830V520H833V710H836V560H839V430H842V380H845V570H848V450H851V250H854V170H857V420H860V180H863V180H866V250H869V300H872V270H875V310H878V240H881V280H884V290H887V48H893V48H896V200H898V100H901V50H904V280H907V370H910V100H913V180H916V300H918V460H921V450H924V250H927V370H930V270H933V340H936V410H939V520H942V410H945V330H948V160H951V200H954V240H957V280H960V400H963V560H966V280H969V290H972V340H975V140H978V150H981V200H984V250H987V210H990V220H993V320H996V230H999V200H1002V170H1005V90H1008V140H1011V240H1014V290H1017V350H1020V270H1023V300H1026V330H1029V330H1032V290H1035V60H1038V360H1041V400H1044V380H1047V450H1050V400H1053V500H1056V580H1058V580H1061V520H1064V450H1067V420H1070V370H1073V260H1076V250H1078V125H1081V300H1084V470H1087V590H1089V650H1092V710H1095V48H1098V60H1101V350H1104V550H1107V700H1110V750H1113V700H1116V750H1119V600H1122V420H1125V350H1128V160H1131V80H1134V250H1137V140H1140V200H1143V110H1146V250H1149V280H1152V360H1155V380H1158V420H1159"/>
<path class="s" vector-effect="non-scaling-stroke" d="M1205 390H1208V440H1211V420H1214V430H1217V435H1220V410H1223V440H1226V420H1229V395H1232V380H1235V420H1238V450H1241V405H1244V440H1247V480H1250V500H1253V450H1256V430H1259V480H1262V470H1265V460H1268V425H1271V445H1274V400H1277V380H1280V410H1283V410H1286V400H1289V350H1292V330H1295V320H1298V530H1301V525H1304V440H1307V440H1310V470H1313V460H1316V440H1319V420H1322V380H1325V400H1328V370H1331V380H1334V360H1337V350H1340V430H1343V460H1346V470H1349V420H1352V320H1355V370H1358V380H1361V355H1364V470H1367V400H1370V390H1373V380H1376V360H1379V420H1382V400H1385V420H1388V430H1391V520H1394V400H1397V420H1400V390H1403V400H1406V380H1409V330H1412V400H1415V420H1418V410H1421V440H1424V410H1427V540H1430V420H1433V345H1436V420H1439V350H1442V420H1445V340H1448V410H1451V340H1454V400H1457V420H1460V630H1462V300H1464V260H1466V50H1470V50H1472V100H1474V380H1476V420H1478V350H1481V620H1483V680H1485V600H1488V380H1490V350H1492V500H1494V560H1496V560H1498V740H1500V750H1503V640H1506V430H1508V270H1510V250H1513V400H1516V420H1519V380H1522V410H1525V360H1528V420H1530V590H1533V450H1536V440H1539V510H1542V470H1545V500H1546"/>
</g>
<!-- Row 3 -->
<g transform="translate(-0.3,677.1) scale(1.3533,0.33333)">
<path class="s" vector-effect="non-scaling-stroke" d="M47 545H48V430H52V430H55V480H58V500H60V600H63V640H66V420H68V370H71V350H74V250H77V330H80V300H83V280H86V420H89V430H91V620H94V530H97V440H100V420H103V310H106V330H108V740H111V420H113V300H116V250H118V180H121V200H124V420H127V480H130V510H133V160H136V150H139V400H141V320H144V340H146V240H149V180H152V330H155V220H158V270H161V400H164V390H166V490H169V250H171V100H174V48H180V48H182V200H184V320H187V150H190V280H193V48H195V120H197V250H200V180H203V160H206V200H209V340H212V280H215V350H218V250H221V220H224V350H227V150H230V150H233V250H236V310H239V420H242V470H245V330H248V270H251V320H254V350H257V270H260V220H263V115H266V280H269V340H272V350H275V490H278V520H281V420H284V500H287V460H290V560H293V630H295V745H297V600H300V530H303V480H306V520H309V400H312V580H314V440H316V600H318V740H320V400H322V180H325V240H328V400H331V750H334V740H337V750H340V720H343V660H346V750H350V750H352V400H355V250H357V50H363V48H365V230H368V250H371V180H374V220H377V240H380V220H383V290H384"/>
<path class="s" vector-effect="non-scaling-stroke" d="M433 130H436V160H439V110H442V140H444V310H447V310H449V470H452V400H455V300H458V295H461V250H464V400H467V360H470V530H473V560H476V430H479V470H482V340H485V370H488V450H491V640H493V710H496V360H499V460H502V530H505V470H508V340H511V520H514V145H517V250H520V420H523V350H526V180H529V250H532V420H535V500H538V430H541V340H544V720H547V745H550V620H553V270H556V320H559V350H562V450H565V330H568V460H571V380H574V410H577V350H580V440H583V450H586V380H589V350H592V510H595V590H598V550H601V600H604V490H607V440H610V500H613V510H616V400H619V330H622V480H625V490H628V420H631V440H634V500H637V270H640V340H643V390H646V350H649V320H652V300H655V330H658V250H661V310H664V350H667V420H670V470H673V460H676V500H679V510H682V530H685V420H688V320H691V380H694V420H697V340H700V320H703V240H706V160H709V180H712V200H715V230H718V260H721V240H724V200H727V220H730V115H733V130H736V280H739V320H742V400H745V460H748V420H751V400H754V410H757V380H760V410H763V400H766V380H769V340H772V410H773"/>
<path class="s" vector-effect="non-scaling-stroke" d="M819 410H822V360H825V330H828V320H831V300H834V320H837V420H840V500H843V390H846V320H849V270H852V440H855V520H858V360H861V170H864V380H867V410H870V310H873V300H876V330H879V350H882V420H885V410H888V400H891V330H894V400H897V410H900V310H903V350H906V240H909V250H912V380H915V340H918V300H921V380H924V560H927V500H930V420H933V450H936V440H939V370H942V240H944V170H947V210H950V270H953V230H956V380H959V330H962V280H965V500H968V570H971V520H974V600H977V560H980V720H983V600H986V500H989V430H992V350H995V190H998V250H1001V350H1004V370H1007V270H1010V230H1013V310H1016V300H1019V120H1022V250H1025V260H1028V370H1031V440H1034V330H1037V360H1040V460H1043V450H1046V300H1049V360H1052V470H1055V530H1058V630H1061V590H1064V540H1067V520H1070V450H1073V470H1076V420H1079V480H1082V400H1085V430H1088V280H1091V275H1094V290H1097V360H1100V460H1103V420H1106V420H1109V450H1112V510H1115V470H1118V560H1121V430H1124V380H1127V390H1130V340H1133V300H1136V250H1139V340H1142V380H1145V400H1148V480H1151V550H1154V360H1157V515H1158"/>
<path class="s" vector-effect="non-scaling-stroke" d="M1205 460H1208V470H1211V430H1214V300H1217V285H1220V360H1223V360H1226V350H1229V420H1232V330H1235V320H1238V360H1241V380H1244V450H1247V480H1250V500H1253V470H1256V510H1259V400H1262V460H1265V520H1268V480H1271V600H1274V550H1277V500H1280V570H1283V510H1286V325H1289V420H1292V480H1295V520H1298V720H1301V640H1304V340H1307V480H1310V550H1313V430H1316V320H1319V520H1322V700H1325V750H1327V400H1329V80H1332V130H1335V300H1338V400H1341V620H1344V500H1347V450H1350V380H1353V48H1355V250H1358V600H1361V750H1364V500H1367V440H1370V320H1373V430H1376V560H1379V600H1382V520H1385V400H1388V115H1391V180H1394V300H1397V400H1400V450H1403V380H1406V200H1409V260H1412V320H1415V400H1418V340H1421V480H1424V150H1427V260H1430V360H1433V500H1436V540H1439V380H1442V300H1445V350H1448V480H1451V530H1454V600H1457V460H1460V440H1463V360H1466V380H1469V290H1472V330H1475V80H1477V48H1480V170H1483V400H1486V480H1489V550H1492V600H1495V680H1498V630H1501V660H1504V700H1507V740H1510V600H1513V320H1516V420H1519V470H1522V450H1525V330H1528V400H1531V470H1534V450H1537V380H1540V420H1543V430H1544"/>
</g>
<!-- Row 4 -->
<g transform="translate(-0.3,1001.9) scale(1.3533,0.33333)">
<path class="s" vector-effect="non-scaling-stroke" d="M47 380H50V370H53V390H56V390H59V400H61V445H64V420H67V445H70V430H73V420H76V390H79V360H82V360H85V410H88V395H91V420H94V400H97V370H100V340H103V350H106V370H109V390H112V385H115V395H118V420H121V430H124V420H127V400H130V385H133V405H136V390H139V340H142V330H145V360H148V350H151V390H154V400H157V410H160V490H163V545H166V570H169V530H172V420H175V370H178V340H181V360H184V380H187V360H190V400H193V420H196V450H199V560H202V530H205V490H208V480H211V510H214V480H217V490H220V510H223V500H226V440H229V470H232V510H235V580H238V560H241V410H244V370H247V330H250V270H253V290H256V310H259V330H262V250H265V260H268V290H271V320H274V320H277V340H280V370H283V350H286V360H289V390H292V380H295V430H298V460H301V400H304V410H307V390H310V400H313V390H316V420H319V520H322V300H325V250H328V240H331V350H334V500H337V510H340V570H343V670H346V650H349V530H352V420H355V410H358V270H361V275H364V330H367V310H370V350H373V340H376V345H379V340H383V360H384"/>
<path class="s" vector-effect="non-scaling-stroke" d="M433 320H436V420H439V520H442V300H445V470H448V460H451V320H454V400H457V460H460V600H463V470H466V520H469V520H472V430H475V540H478V600H481V400H484V270H487V240H490V95H493V400H496V370H499V380H502V340H505V410H508V420H511V520H514V460H517V530H520V400H523V430H526V380H529V460H532V400H535V470H538V350H541V570H544V710H547V520H550V440H553V550H556V48H562V48H564V250H567V230H570V370H573V210H576V240H579V280H582V400H585V660H588V690H591V380H594V360H597V350H600V450H603V320H606V320H609V240H612V300H615V230H618V300H621V320H624V290H627V370H630V340H633V300H636V48H639V200H642V210H645V400H648V300H651V170H654V260H657V400H660V440H663V250H666V260H669V185H672V550H675V560H678V600H681V280H684V440H687V580H690V560H693V650H696V590H699V640H702V350H705V370H708V650H711V240H714V300H717V480H720V560H723V550H726V480H729V700H732V600H735V750H740V750H742V610H745V290H748V250H751V210H754V190H757V260H760V290H763V340H766V240H769V200H770"/>
<path class="s" vector-effect="non-scaling-stroke" d="M819 395H822V440H825V430H828V440H831V420H834V450H837V420H840V400H843V390H846V400H849V380H852V370H855V360H858V330H861V320H864V340H867V320H870V340H873V340H876V310H879V350H882V350H885V420H888V470H891V400H894V330H897V340H900V330H903V280H906V340H909V360H912V400H915V400H918V420H921V360H924V380H927V400H930V450H933V370H936V440H939V480H942V500H945V450H948V400H951V340H954V390H957V400H960V370H963V380H966V420H969V300H972V380H975V410H978V430H981V360H984V380H987V350H990V400H993V460H996V440H999V420H1002V390H1005V440H1008V380H1011V360H1014V345H1017V410H1020V460H1023V480H1026V510H1029V450H1032V420H1035V460H1038V400H1041V390H1044V350H1047V410H1050V380H1053V390H1056V420H1059V410H1062V410H1065V380H1068V420H1071V410H1074V300H1077V200H1080V240H1083V250H1086V240H1089V540H1091V550H1094V48H1097V90H1100V550H1103V560H1106V620H1109V700H1112V600H1115V540H1118V450H1121V420H1124V310H1127V360H1130V410H1133V440H1136V420H1139V340H1142V370H1145V380H1148V350H1151V340H1154V290H1157V340H1158"/>
<path class="s" vector-effect="non-scaling-stroke" d="M1205 300H1208V200H1211V190H1214V470H1217V490H1220V500H1223V260H1226V460H1229V600H1232V580H1235V400H1238V360H1241V450H1244V550H1247V200H1250V180H1253V48H1257V48H1259V750H1262V750H1265V200H1268V240H1271V130H1274V400H1277V50H1280V100H1283V260H1285V140H1288V200H1291V200H1294V240H1297V50H1300V100H1303V650H1305V500H1308V180H1311V300H1314V380H1317V150H1320V48H1323V48H1326V100H1328V350H1331V560H1333V520H1336V160H1339V150H1342V48H1345V90H1347V700H1350V750H1353V750H1356V600H1359V300H1362V380H1365V560H1368V700H1374V750H1380V750H1383V550H1386V450H1389V460H1392V450H1395V360H1398V600H1401V650H1404V700H1407V500H1410V400H1413V300H1416V340H1419V440H1422V460H1425V470H1428V480H1431V430H1434V320H1437V180H1440V200H1443V300H1446V230H1449V350H1452V360H1455V430H1458V430H1461V250H1464V300H1467V320H1470V400H1473V460H1476V350H1479V48H1483V48H1486V130H1489V250H1492V260H1495V50H1498V100H1501V420H1504V440H1507V480H1510V400H1513V430H1516V450H1519V500H1522V750H1525V600H1528V630H1531V650H1534V550H1537V270H1540V300H1543V750H1545"/>
</g>
<!-- Row 5 -->
<g transform="translate(-0.3,1326.7) scale(1.3533,0.33333)">
<path class="s" vector-effect="non-scaling-stroke" d="M47 225H49V130H51V60H53V48H56V48H58V110H60V48H66V48H68V200H71V160H74V210H77V330H80V360H82V80H85V300H88V280H91V200H94V480H97V430H100V380H103V300H106V290H109V290H112V400H115V260H117V140H120V220H123V48H126V150H129V260H132V48H135V75H138V280H141V600H144V380H147V280H150V320H153V150H156V48H162V48H164V280H166V600H169V690H172V750H175V600H178V380H181V350H184V260H187V550H190V610H193V570H196V420H199V470H202V280H205V120H208V200H211V400H214V560H217V620H220V500H223V430H226V360H229V470H232V480H235V380H238V450H241V600H244V660H247V730H250V700H253V600H256V680H259V740H262V750H265V700H268V600H271V500H274V380H277V350H280V520H283V650H286V740H289V440H292V90H295V50H298V300H300V520H303V580H306V750H309V750H312V650H315V420H318V550H321V700H324V600H327V130H330V48H350V48H352V140H355V250H358V400H361V450H364V260H367V280H370V150H373V120H376V460H379V300H382V210H384V520H385"/>
<path class="s" vector-effect="non-scaling-stroke" d="M433 320H435V540H437V650H440V330H443V320H446V300H449V280H452V300H455V220H458V270H461V330H464V440H467V440H470V520H473V450H476V430H479V550H482V600H485V560H488V440H491V490H494V430H497V580H500V430H503V580H506V600H509V560H512V570H515V540H518V400H521V470H524V400H527V420H530V520H533V440H536V550H539V520H542V180H545V320H548V340H551V250H554V100H557V90H560V140H563V210H566V270H569V210H572V180H575V380H578V270H581V350H584V250H587V300H590V380H593V320H596V440H599V430H602V330H605V460H608V350H611V480H614V430H617V370H620V460H623V450H626V520H629V480H632V400H635V330H638V440H641V390H644V430H647V460H650V360H653V320H656V330H659V380H662V430H665V300H668V360H671V420H674V520H677V540H680V470H683V440H686V420H689V380H692V340H695V390H698V390H701V260H704V70H707V100H710V200H713V380H716V700H718V650H721V530H724V560H727V650H730V680H733V500H736V450H739V560H742V600H745V390H748V380H751V380H754V340H757V330H760V430H763V440H766V310H769V240H772V290H773"/>
<path class="s" vector-effect="non-scaling-stroke" d="M819 300H822V340H825V370H828V270H831V320H834V280H837V330H840V350H843V280H846V340H849V320H852V280H855V320H858V340H861V310H864V320H867V300H870V290H873V330H876V110H879V180H882V100H885V190H888V200H891V60H894V120H897V48H903V48H906V130H909V48H912V48H914V80H916V500H919V400H922V300H925V290H928V380H931V750H940V750H943V230H946V210H949V240H952V250H955V520H958V550H961V350H964V430H967V350H970V440H973V380H976V250H979V280H982V480H985V640H988V580H991V600H994V480H997V570H1000V520H1003V510H1006V580H1009V530H1012V550H1015V440H1018V500H1021V460H1024V470H1027V440H1030V430H1033V350H1036V240H1039V250H1042V260H1045V140H1048V200H1051V250H1054V260H1057V150H1060V220H1063V400H1066V420H1069V360H1072V330H1075V310H1078V380H1081V320H1084V350H1087V590H1090V500H1093V100H1096V80H1099V200H1102V280H1105V300H1108V240H1111V350H1114V530H1117V650H1120V740H1123V620H1126V280H1129V120H1132V150H1135V260H1138V300H1141V400H1144V100H1147V50H1150V240H1153V350H1156V330H1159V320H1160"/>
<path class="s" vector-effect="non-scaling-stroke" d="M1205 48H1208V80H1211V500H1214V200H1218V230H1221V290H1224V420H1227V750H1231V750H1233V300H1235V70H1238V220H1240V750H1250V750H1252V650H1255V560H1258V480H1261V300H1264V400H1267V520H1270V290H1273V380H1276V270H1279V420H1282V550H1285V600H1288V500H1291V52H1293V140H1296V350H1299V230H1302V60H1305V100H1308V250H1311V300H1314V440H1317V580H1320V550H1323V380H1326V280H1329V600H1332V350H1335V350H1338V160H1341V230H1344V590H1347V48H1354V48H1356V750H1358V600H1361V430H1364V460H1367V350H1370V300H1373V470H1376V460H1379V350H1382V220H1384V120H1387V360H1390V470H1393V520H1396V450H1399V230H1402V240H1405V300H1408V560H1411V460H1414V600H1417V660H1420V680H1423V750H1428V750H1431V600H1434V590H1437V460H1440V500H1443V480H1446V700H1449V750H1463V750H1464V380H1467V300H1470V290H1473V270H1476V48H1479V110H1481V200H1484V100H1487V250H1490V450H1493V520H1496V600H1499V680H1502V720H1505V750H1508V750H1511V210H1514V400H1517V450H1520V360H1523V330H1526V500H1529V570H1532V540H1535V620H1538V410H1541V320H1544V320H1545"/>
</g>
<!-- Row 6 -->
<g transform="translate(-0.3,1651.5) scale(1.3533,0.33333)">
<path class="s" vector-effect="non-scaling-stroke" d="M47 515H50V620H52V630H54V340H57V335H60V340H63V335H65V460H68V350H70V180H73V350H75V320H78V430H80V240H82V440H85V340H88V410H91V330H94V470H97V250H100V400H103V420H106V310H108V570H111V220H114V220H117V340H119V210H122V280H125V480H128V370H131V310H134V330H137V510H140V590H143V470H146V530H149V500H152V540H155V600H158V600H161V450H164V480H167V430H170V140H173V100H176V250H179V300H182V310H185V400H188V480H191V450H194V440H197V410H200V300H203V310H206V420H209V290H212V210H215V220H218V350H221V250H224V220H227V125H230V200H233V320H236V280H239V280H242V370H245V130H248V140H251V380H254V420H257V490H260V170H263V270H266V300H269V350H272V460H275V410H278V350H281V340H284V460H287V480H290V410H293V450H296V420H299V380H302V350H305V340H308V320H311V230H314V300H317V100H320V120H323V200H326V150H329V370H332V500H335V580H337V600H340V750H343V600H346V470H349V500H352V50H355V130H358V200H361V220H364V360H367V400H370V420H373V380H376V460H379V520H382V460H384V470H385"/>
<path class="s" vector-effect="non-scaling-stroke" d="M433 420H435V310H437V410H446V560H452V580H458V600H460V345H461V610H466V625H472V640H475V283H485V750H488V620H490V640H493V450H496V750H499V600H502V580H505V500H508V510H511V520H514V700H517V680H518V590H521V600H524V750H531V750H534V570H537V600H540V370H541V380H543V750H545V620H547V610H551V600H555V48H558V60H560V80H563V280H565V200H567V165H570V370H572V440H575V250H577V210H580V190H582V165H584V380H585V520H588V320H593V300H598V280H600V390H604V440H608V210H611V95H614V100H617V230H620V270H622V290H624V500H626V320H630V380H634V555H637V420H640V500H643V520H646V490H649V470H652V430H655V500H658V530H661V560H664V590H666V520H668V480H672V440H676V450H680V500H684V575H687V610H689V590H691V390H694V400H697V470H700V450H704V420H707V450H710V500H713V600H716V735H718V700H720V650H722V600H724V505H726V560H728V750H730V700H732V650H734V700H736V470H738V330H740V280H743V250H745V230H747V330H748V370H751V400H753V460H755V520H757V560H759V450H761V420H763V470H765V500H768V480H770V380H771"/>
<path class="s" vector-effect="non-scaling-stroke" d="M819 390H822V380H825V350H828V440H831V460H834V420H837V440H840V400H843V380H846V360H849V330H852V300H855V280H858V320H861V340H864V420H867V470H870V510H873V340H876V260H879V320H882V340H885V310H888V350H891V400H894V420H897V380H900V350H903V240H906V380H909V460H912V500H915V350H918V400H921V560H924V530H927V300H930V380H933V450H936V540H939V500H942V430H945V370H948V450H951V530H954V520H957V480H960V420H963V400H966V310H969V350H972V440H975V320H978V470H981V420H984V430H987V450H990V420H993V400H996V410H999V390H1002V400H1005V430H1008V420H1011V410H1014V420H1017V500H1020V410H1023V420H1026V440H1029V450H1032V430H1035V460H1038V440H1041V400H1044V380H1047V340H1050V330H1053V450H1056V480H1059V510H1062V470H1065V420H1068V400H1071V360H1074V260H1077V280H1080V310H1083V330H1086V200H1089V320H1092V360H1095V350H1098V340H1101V380H1104V350H1107V380H1110V440H1113V380H1116V520H1119V560H1122V490H1125V380H1128V290H1131V300H1134V350H1137V285H1140V330H1143V320H1146V285H1149V380H1152V340H1155V360H1158V375H1159"/>
<path class="s" vector-effect="non-scaling-stroke" d="M1205 250H1208V280H1211V72H1213V90H1215V330H1217V450H1220V600H1222V620H1225V500H1228V350H1231V420H1234V480H1237V600H1240V630H1243V450H1246V470H1249V580H1252V640H1255V500H1258V460H1261V650H1264V560H1267V540H1270V500H1273V380H1276V750H1281V750H1283V400H1286V330H1289V380H1292V420H1295V160H1298V100H1301V48H1304V90H1306V120H1308V380H1311V500H1314V600H1317V200H1320V100H1323V750H1327V750H1329V300H1332V48H1336V48H1339V160H1342V200H1345V400H1348V460H1351V550H1354V600H1357V750H1361V750H1363V640H1366V560H1369V330H1372V400H1375V650H1378V700H1381V750H1384V600H1387V300H1390V190H1393V48H1397V48H1400V110H1403V150H1406V230H1409V250H1412V48H1419V48H1422V110H1425V300H1428V230H1431V240H1434V300H1437V400H1440V180H1443V250H1446V450H1449V420H1452V400H1455V740H1458V600H1461V300H1464V440H1467V400H1470V380H1473V320H1476V200H1479V240H1482V250H1485V420H1488V650H1491V750H1494V720H1497V740H1500V600H1503V750H1506V750H1509V380H1512V320H1515V250H1518V200H1521V250H1524V500H1527V640H1530V280H1533V250H1536V230H1539V190H1542V450H1545V480H1546"/>
</g>
<!-- TRY -->
<g transform="translate(0,1950) scale(0.33333,0.33333)">
<path class="s" vector-effect="non-scaling-stroke" d="M190 630H198V625H200V615H203V660H206V665H215V675H222V680H226V820H232V830H238V790H242V765H248V780H252V760H257V715H264V705H268V300H278V300H280V130H292V130H293V310H296V400H304V400H307V420H311V318H321V320H323V580H330V565H333V590H337V590H341V610H346V610H350V700H353V710H356V645H373V645H376V720H380V715H386V505H393V505H396V485H400V580H402V485H416V485H420V625H428V600H431V830H444V815H456V600H466V615H470V600H481V670H490V670H492V760H502V760H506V700H510V680H514V690H517V715H520V690H523V585H526V690H534V720H546V830H560V750H571V745H575V465H580V455H586V460H588V575H605V565H614V615H620V620H624V685H628V550H640V600H660V590H664V555H668V535H682V290H697V130H707V345H720V490H732V500H735V530H748V600H752V605H759V520H770V665H782V605H786V665H790V800H806V770H820V615H838V675H842V640H854V560H863V515H866V400H878V325H893V530H903V500H906V595H918V750H935V545H948V610H960V395H972V350H974V410H984V365H1000V620H1008V365H1036V265H1054V410H1065V320H1070V365H1080V350H1092V385H1103V325H1110V505H1114V470H1117V505H1121V555H1130V605H1142V680H1160V655H1184V440H1196V240H1208V350H1211V130H1224V365H1236V375H1240V420H1248V460H1252V395H1254V465H1257V305H1262V570H1270V580H1273V780H1285V780H1288V565H1295V600H1298V620H1300V820H1312V700H1315V725H1319V700H1326V380H1339V290H1358V440H1362V420H1366V480H1368V830H1396V750H1409V830H1414V800H1423V590H1436V660H1449V440H1462V565H1473V400H1484V380H1488V390H1493V460H1506V435H1516V320H1532V585H1540V590H1545V510H1554V560H1562"/>
</g>
<!-- TWD ZAR -->
<g transform="translate(-0.3,1976.3) scale(1.3533,0.33333)">
<path class="s" vector-effect="non-scaling-stroke" d="M433 470H436V410H439V420H442V430H445V400H448V280H451V250H454V345H457V360H460V140H463V120H466V105H469V300H472V200H475V210H478V330H481V200H484V180H487V260H490V600H493V620H496V370H499V380H502V750H505V580H508V450H511V550H514V48H517V340H520V420H523V380H526V440H529V115H532V140H535V420H538V250H541V300H544V420H547V450H550V750H553V400H556V380H559V145H562V280H565V380H568V530H571V450H574V270H577V250H580V600H583V500H586V380H589V210H592V250H595V440H598V480H601V300H604V200H607V260H610V210H613V160H616V310H619V260H622V470H625V320H628V300H631V200H634V48H637V180H640V220H643V330H646V190H648V55H651V200H654V300H657V360H660V260H663V380H666V125H669V230H672V330H675V350H678V450H681V680H684V540H687V450H690V420H693V430H696V690H699V500H702V340H705V380H708V48H711V270H714V260H717V320H720V470H723V500H726V125H729V150H732V520H735V610H738V600H741V450H744V140H746V48H753V48H756V600H759V400H762V350H765V175H768V160H770V48H771"/>
<path class="s" vector-effect="non-scaling-stroke" d="M819 400H822V360H825V340H828V300H831V290H834V380H837V250H840V230H843V260H846V480H849V520H852V370H858V370H861V400H864V340H867V410H870V360H873V340H876V500H879V470H882V750H885V530H888V510H891V500H894V470H897V410H900V480H903V520H906V690H909V620H912V720H915V560H918V540H921V470H924V470H927V560H933V560H936V520H939V620H941V400H944V330H953V320H956V350H959V370H962V390H965V150H968V100H971V240H974V420H977V440H980V450H983V550H986V570H989V580H992V520H995V590H998V600H1001V510H1004V480H1007V380H1010V360H1013V380H1016V540H1019V470H1022V480H1025V330H1028V190H1031V250H1034V130H1037V210H1040V100H1043V300H1046V310H1049V250H1052V240H1055V280H1058V240H1061V350H1064V240H1067V400H1070V480H1073V400H1076V330H1079V300H1082V500H1085V340H1088V48H1108V48H1110V330H1113V360H1116V440H1119V530H1122V560H1125V650H1128V610H1131V500H1134V460H1137V380H1140V400H1143V370H1146V560H1149V360H1152V370H1155V440H1158V490H1159"/>
</g>

<!-- Zero lines -->
<path class="z" d="M42 161.2H543M564 161.2H1065M1086 161.2H1587M1608 161.2H2109"/>
<path class="z" d="M42 486H543M564 486H1065M1086 486H1587M1608 486H2109"/>
<path class="z" d="M42 810.8H543M564 810.8H1065M1086 810.8H1587M1608 810.8H2109"/>
<path class="z" d="M42 1135.6H543M564 1135.6H1065M1086 1135.6H1587M1608 1135.6H2109"/>
<path class="z" d="M42 1460.4H543M564 1460.4H1065M1086 1460.4H1587M1608 1460.4H2109"/>
<path class="z" d="M42 1785.2H543M564 1785.2H1065M1086 1785.2H1587M1608 1785.2H2109"/>
<path class="z" d="M42 2110H543M564 2110H1065M1086 2110H1587"/>
</svg>
</body></html>
